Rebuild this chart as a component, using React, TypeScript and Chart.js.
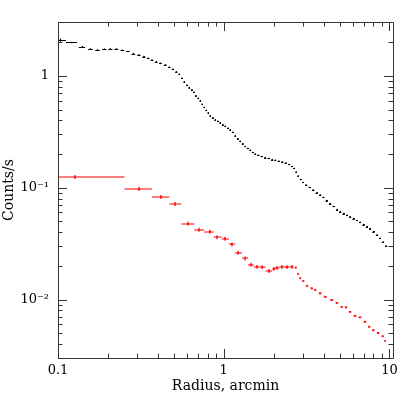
import React, { useEffect, useRef } from "react";
import { Chart, registerables } from "chart.js";

Chart.register(...registerables);

// ---- data ----
const blackRadius = [
  0.1035, 0.1206, 0.1405, 0.157, 0.173, 0.1906, 0.2072, 0.2251, 0.2446, 0.264,
  0.285, 0.3076, 0.3296, 0.3509, 0.3684, 0.392, 0.4145, 0.4443, 0.4695, 0.493,
  0.5175, 0.5394, 0.5585, 0.578, 0.6002, 0.6197, 0.6415, 0.6596, 0.6781, 0.7021,
  0.7218, 0.742, 0.763, 0.7845, 0.8064, 0.8293, 0.8584, 0.8888, 0.9202, 0.9526,
  0.9862, 1.021, 1.057, 1.094, 1.133, 1.173, 1.214, 1.257, 1.302, 1.348,
  1.395, 1.444, 1.495, 1.548, 1.614, 1.694, 1.778, 1.867, 1.96, 2.043,
  2.144, 2.251, 2.363, 2.481, 2.575, 2.659, 2.733, 2.811, 2.91, 3.012,
  3.14, 3.297, 3.461, 3.643, 3.814, 3.993, 4.174, 4.382, 4.6, 4.828,
  5.033, 5.284, 5.546, 5.781, 6.069, 6.37, 6.641, 6.97, 7.317, 7.627,
  8.009, 8.41, 8.766, 9.138, 9.526,
];
const blackRate = [
  2.087, 1.987, 1.818, 1.738, 1.702, 1.727, 1.734, 1.734, 1.691, 1.651,
  1.58, 1.535, 1.485, 1.434, 1.382, 1.335, 1.294, 1.254, 1.191, 1.143,
  1.086, 1.031, 0.95, 0.884, 0.822, 0.784, 0.749, 0.712, 0.662, 0.629,
  0.597, 0.556, 0.522, 0.491, 0.4664, 0.4385, 0.4207, 0.4037, 0.3914, 0.3795,
  0.3642, 0.3531, 0.3403, 0.3286, 0.312, 0.2903, 0.2729, 0.2593, 0.2462, 0.2338,
  0.2243, 0.2162, 0.2066, 0.2003, 0.195, 0.1902, 0.1856, 0.1825, 0.1781, 0.1759,
  0.1723, 0.1698, 0.1664, 0.1613, 0.1548, 0.1485, 0.1382, 0.1272, 0.1184, 0.1113,
  0.1057, 0.1004, 0.0954, 0.09, 0.086, 0.0817, 0.0768, 0.0722, 0.0679, 0.0638,
  0.061, 0.0587, 0.0566, 0.0549, 0.053, 0.0509, 0.049, 0.0468, 0.0449, 0.0431,
  0.0405, 0.0377, 0.0352, 0.0327, 0.0301,
];

const redRadius = [
  0.126, 0.31, 0.416, 0.508, 0.605, 0.714, 0.821, 0.914, 1.021, 1.114,
  1.227, 1.348, 1.459, 1.585, 1.71, 1.88, 2.0, 2.09, 2.24, 2.42,
  2.575, 2.72, 2.8, 2.89, 3.025, 3.17, 3.4, 3.56, 3.81, 4.09,
  4.49, 4.81, 5.15, 5.47, 5.78, 6.2, 6.64, 7.12, 7.55, 7.98,
  8.56, 9.1, 9.43,
];
const redRate = [
  0.1247, 0.0973, 0.0826, 0.0715, 0.0476, 0.0421, 0.0404, 0.036, 0.035, 0.0311,
  0.0262, 0.0233, 0.0205, 0.0196, 0.0194, 0.018, 0.0188, 0.0192, 0.0196, 0.0195,
  0.0196, 0.0193, 0.0169, 0.01545, 0.01462, 0.01327, 0.01257, 0.01214, 0.01134, 0.01057,
  0.00988, 0.00934, 0.0086, 0.0085, 0.00776, 0.00715, 0.00691, 0.00632, 0.0057, 0.00532,
  0.00503, 0.0047, 0.00427,
];
const redBinEdges = [
  0.1, 0.252, 0.369, 0.47, 0.555, 0.664, 0.763, 0.868, 0.97, 1.075,
  1.17, 1.29, 1.4, 1.52, 1.65, 1.79, 1.96, 2.04, 2.16, 2.33,
  2.5, 2.65, 2.76, 2.845, 2.955, 3.1, 3.28, 3.48, 3.68, 3.95,
  4.28, 4.65, 4.98, 5.31, 5.62, 5.98, 6.42, 6.88, 7.33, 7.76,
  8.26, 8.82, 9.26, 9.6,
];

const xTickValues = [0.1, 1, 10];
const xTickLabels = ["0.1", "1", "10"];
const yTickValues = [0.01, 0.1, 1];
const yTickLabels = ["10\u207B\u00B2", "10\u207B\u00B9", "1"];
const xTitle = "Radius, arcmin";
const yTitle = "Counts/s";

const X_MIN = 0.1;
const X_MAX = 10.5;
const Y_MIN = 0.003;
const Y_MAX = 3.03;

const FONT = "'DejaVu Serif', serif";

// shrink a bin around its centre (in log space) for drawing
function shrink(c: number, edge: number, f: number) {
  return c * Math.pow(edge / c, f);
}

function buildBlack() {
  const n = blackRadius.length;
  return blackRadius.map((r, i) => {
    const lo = i === 0 ? X_MIN : Math.sqrt(blackRadius[i - 1] * r);
    const hi =
      i === n - 1 ? (r * r) / Math.sqrt(blackRadius[i - 1] * r) : Math.sqrt(r * blackRadius[i + 1]);
    const f = i < 2 ? 1 : 0.65;
    const e = i === 0 ? 0.035 : 0.01;
    return {
      x: r,
      y: blackRate[i],
      xMin: i === 0 ? lo : shrink(r, lo, f),
      xMax: shrink(r, hi, f),
      yMin: blackRate[i] * (1 - e),
      yMax: blackRate[i] * (1 + e),
    };
  });
}

function buildRed() {
  return redRadius.map((r, i) => {
    const f = i >= 21 ? 0.6 : 1;
    const e = i >= 21 ? 0.02 : 0.04;
    return {
      x: r,
      y: redRate[i],
      xMin: shrink(r, redBinEdges[i], f),
      xMax: shrink(r, redBinEdges[i + 1], f),
      yMin: redRate[i] * (1 - e),
      yMax: redRate[i] * (1 + e),
    };
  });
}

const errorBarPlugin = {
  id: "errorBars",
  afterDatasetsDraw(chart: any) {
    const { ctx, chartArea, scales } = chart;
    const xs = scales.x;
    const ys = scales.y;
    ctx.save();
    ctx.beginPath();
    ctx.rect(chartArea.left, chartArea.top, chartArea.right - chartArea.left, chartArea.bottom - chartArea.top);
    ctx.clip();
    chart.data.datasets.forEach((ds: any) => {
      const soft = ds.softLines;
      const off = soft ? 0 : 0.5;
      ctx.strokeStyle = ds.borderColor;
      ctx.lineWidth = soft ? 1.2 : 1;
      ctx.beginPath();
      ds.data.forEach((p: any) => {
        const py = Math.round(ys.getPixelForValue(p.y)) + off;
        const px = Math.round(xs.getPixelForValue(p.x)) + off;
        ctx.moveTo(xs.getPixelForValue(p.xMin), py);
        ctx.lineTo(xs.getPixelForValue(p.xMax), py);
        ctx.moveTo(px, ys.getPixelForValue(p.yMin));
        ctx.lineTo(px, ys.getPixelForValue(p.yMax));
      });
      ctx.stroke();
    });
    ctx.restore();
  },
};

const framePlugin = {
  id: "frameTicks",
  afterDraw(chart: any) {
    const { ctx, chartArea, scales } = chart;
    const { left, right, top, bottom } = chartArea;
    const xs = scales.x;
    const ys = scales.y;
    ctx.save();
    ctx.strokeStyle = "#333";
    ctx.lineWidth = 1;
    ctx.beginPath();
    ctx.rect(Math.round(left) + 0.5, Math.round(top) + 0.5, Math.round(right - left), Math.round(bottom - top));
    ctx.stroke();
    const MAJ = 9;
    const MIN = 4.5;
    ctx.beginPath();
    for (let d = 0.1; d < X_MAX; d *= 10) {
      for (let k = 1; k <= 9; k++) {
        const v = d * k;
        if (v < X_MIN * 0.999 || v > X_MAX) continue;
        const len = k === 1 ? MAJ : MIN;
        const px = Math.round(xs.getPixelForValue(v)) + 0.5;
        ctx.moveTo(px, bottom);
        ctx.lineTo(px, bottom - len);
        ctx.moveTo(px, top);
        ctx.lineTo(px, top + len);
      }
    }
    for (let d = 0.001; d < Y_MAX; d *= 10) {
      for (let k = 1; k <= 9; k++) {
        const v = d * k;
        if (v < Y_MIN * 0.999 || v > Y_MAX) continue;
        const len = k === 1 ? MAJ : MIN;
        const py = Math.round(ys.getPixelForValue(v)) + 0.5;
        ctx.moveTo(left, py);
        ctx.lineTo(left + len, py);
        ctx.moveTo(right, py);
        ctx.lineTo(right - len, py);
      }
    }
    ctx.stroke();
    ctx.restore();
  },
};

export default function App() {
  const canvasRef = useRef<HTMLCanvasElement | null>(null);

  useEffect(() => {
    const canvas = canvasRef.current;
    if (!canvas) return;
    const chart = new Chart(canvas, {
      type: "scatter",
      data: {
        datasets: [
          {
            label: "black",
            data: buildBlack() as any,
            borderColor: "#000000",
            backgroundColor: "#000000",
            pointRadius: 0.8,
            pointBorderWidth: 0,
            showLine: false,
          },
          {
            label: "red",
            data: buildRed() as any,
            borderColor: "#ff0000",
            backgroundColor: "#ff0000",
            pointRadius: 0.8,
            pointBorderWidth: 0,
            showLine: false,
            softLines: true,
          } as any,
        ],
      },
      options: {
        animation: false,
        responsive: false,
        devicePixelRatio: 1,
        layout: { padding: { top: 22, right: 22, left: 0, bottom: 0 } },
        plugins: { legend: { display: false }, tooltip: { enabled: false } },
        scales: {
          x: {
            type: "logarithmic",
            min: X_MIN,
            max: X_MAX,
            grid: { display: false, drawTicks: false },
            border: { display: false },
            afterBuildTicks: (scale: any) => {
              scale.ticks = xTickValues.map((v) => ({ value: v }));
            },
            afterFit: (scale: any) => {
              scale.height = 57;
            },
            ticks: {
              autoSkip: false,
              maxRotation: 0,
              padding: 5,
              color: "#000",
              font: { family: FONT, size: 13 },
              callback: (_v: any, i: number) => xTickLabels[i],
            },
            title: {
              display: true,
              text: xTitle,
              color: "#000",
              font: { family: FONT, size: 14 },
              padding: { top: 0, bottom: 20 },
            },
          },
          y: {
            type: "logarithmic",
            min: Y_MIN,
            max: Y_MAX,
            grid: { display: false, drawTicks: false },
            border: { display: false },
            afterBuildTicks: (scale: any) => {
              scale.ticks = yTickValues.map((v) => ({ value: v }));
            },
            afterFit: (scale: any) => {
              scale.width = 58;
            },
            ticks: {
              autoSkip: false,
              padding: 9,
              color: "#000",
              font: { family: FONT, size: 13 },
              callback: (_v: any, i: number) => yTickLabels[i],
            },
            title: {
              display: true,
              text: yTitle,
              color: "#000",
              font: { family: FONT, size: 14 },
              padding: { top: 1, bottom: 0 },
            },
          },
        },
      },
      plugins: [errorBarPlugin, framePlugin],
    });
    return () => chart.destroy();
  }, []);

  return (
    <div style={{ position: "absolute", left: 0, top: 0, width: 415, height: 415, background: "#fff" }}>
      <canvas ref={canvasRef} width={415} height={415} />
    </div>
  );
}
